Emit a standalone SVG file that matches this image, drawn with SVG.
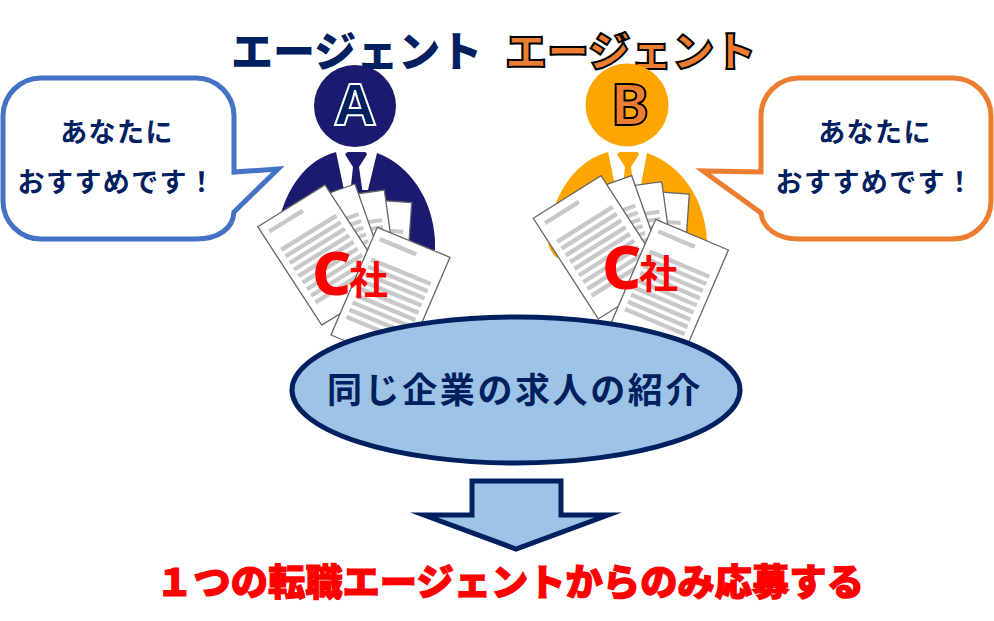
<svg xmlns="http://www.w3.org/2000/svg" xmlns:xlink="http://www.w3.org/1999/xlink" width="994" height="621" viewBox="0 0 994 621">
<style>
text{font-family:"Noto Sans CJK JP","Noto Sans",sans-serif}
.bub{fill:#fff;stroke-width:5;stroke-linejoin:miter;stroke-miterlimit:10}
.bt{font-size:27px;font-weight:700;fill:#002060;text-anchor:middle;letter-spacing:1.4px}
.title{font-size:42px;font-weight:900}
.let{font-family:"Noto Sans",sans-serif;font-size:58px;font-weight:700;text-anchor:middle;stroke-width:2}
.cc{font-family:"Noto Sans",sans-serif;font-size:61px;font-weight:800;fill:#f00}
.sha{font-size:39px;font-weight:700;fill:#f00}
.paper{fill:#fff;stroke:#666;stroke-width:1.3;vector-effect:non-scaling-stroke}
.bar{stroke:#c8c8c8;stroke-width:5.5;fill:none}
</style>
<defs>
<g id="doc">
<rect class="paper" width="100" height="150"/>
<path class="bar" d="M9 13H59M9 41H91M9 51H91M9 61H91M9 71H91M9 81H91M9 91H91M9 101H91M9 111H91M9 121H91"/>
</g>
</defs>

<g id="title-a"><text class="title" x="231" y="67" fill="#002060">エージェント</text></g>

<g id="agent-a">
<circle cx="355" cy="106" r="41" fill="#1a1a6e"/>
<text class="let" x="355" y="125" fill="#002060" stroke="#fff">A</text>
<path d="M336 152C306 160 286 188 278 225L278 250L435 250L435 240C433 200 410 165 377 153L368 190L344 190Z" fill="#1a1a6e"/>
<path d="M348 152H365Q368 153 366 156L359 167L363 195H350L353 167L346 156Q344 153 348 152Z" fill="#1a1a6e"/>
<use href="#doc" transform="matrix(.718 .05 -.05 .718 339.9 197.7)"/>
<use href="#doc" transform="matrix(.713 -.1 .1 .713 313 200)"/>
<use href="#doc" transform="matrix(.68 -.24 .24 .68 287 208)"/>
<use href="#doc" transform="matrix(.673 -.417 .427 .656 257.7 226.7)"/>
<use href="#doc" transform="matrix(.727 .3 -.309 .718 377.3 227.3)"/>
<text class="cc" x="312" y="295">C</text>
<text class="sha" x="349" y="294">社</text>
</g>

<g id="title-b"><text class="title" x="505" y="67" fill="#ED7D31" stroke="#000" stroke-width="2">エージェント</text></g>

<g id="agent-b">
<circle cx="627" cy="105" r="41.5" fill="#FFA500"/>
<text class="let" x="630" y="125" fill="#ED7D31" stroke="#000">B</text>
<path d="M608 152C578 160 558 188 550 222C546 238 546 248 557 258L707 250L707 240C705 200 682 165 647 153L640 190L616 190Z" fill="#FFA500"/>
<path d="M620 152H637Q640 153 638 156L631 167L635 195H622L625 167L618 156Q616 153 620 152Z" fill="#FFA500"/>
<use href="#doc" transform="matrix(.718 .05 -.05 .718 617.5 189)"/>
<use href="#doc" transform="matrix(.713 -.1 .1 .713 590.4 191.7)"/>
<use href="#doc" transform="matrix(.68 -.24 .24 .68 563.7 199.7)"/>
<use href="#doc" transform="matrix(.677 -.427 .433 .671 533.3 218.3)"/>
<use href="#doc" transform="matrix(.727 .307 -.309 .718 655.7 219.3)"/>
<text class="cc" x="602" y="289">C</text>
<text class="sha" x="639" y="288">社</text>
</g>

<g id="bubble-a">
<path class="bub" stroke="#4472C4" d="M41 78H196A38 38 0 0 1 234 116V172L278 169L234 212C233 229 218 239 196 239H41A38 38 0 0 1 3 201V116A38 38 0 0 1 41 78Z"/>
<text class="bt" x="117" y="142">あなたに</text>
<text class="bt" x="117" y="192">おすすめです！</text>
</g>

<g id="bubble-b">
<path class="bub" stroke="#ED7D31" d="M799 78H953A38 38 0 0 1 991 116V201A38 38 0 0 1 953 239H799C778 239 763 229 761 213L703 171L761 172V116A38 38 0 0 1 799 78Z"/>
<text class="bt" x="875" y="142">あなたに</text>
<text class="bt" x="875" y="192">おすすめです！</text>
</g>

<g id="ellipse-node">
<ellipse cx="516" cy="390" rx="224" ry="73" fill="#9DC3E6" stroke="#002060" stroke-width="5"/>
<text x="515" y="403" font-size="35" font-weight="700" fill="#002060" text-anchor="middle" letter-spacing="2.6">同じ企業の求人の紹介</text>
</g>

<g id="connectors">
<path d="M472 481H561V515H608L516 549L424 515H472Z" fill="#9DC3E6" stroke="#002060" stroke-width="5" stroke-miterlimit="10"/>
</g>

<g id="result"><text x="510" y="596" font-size="37.3" font-weight="900" fill="#f00" stroke="#f00" stroke-width="1.2" text-anchor="middle">１つの転職エージェントからのみ応募する</text></g>
</svg>
